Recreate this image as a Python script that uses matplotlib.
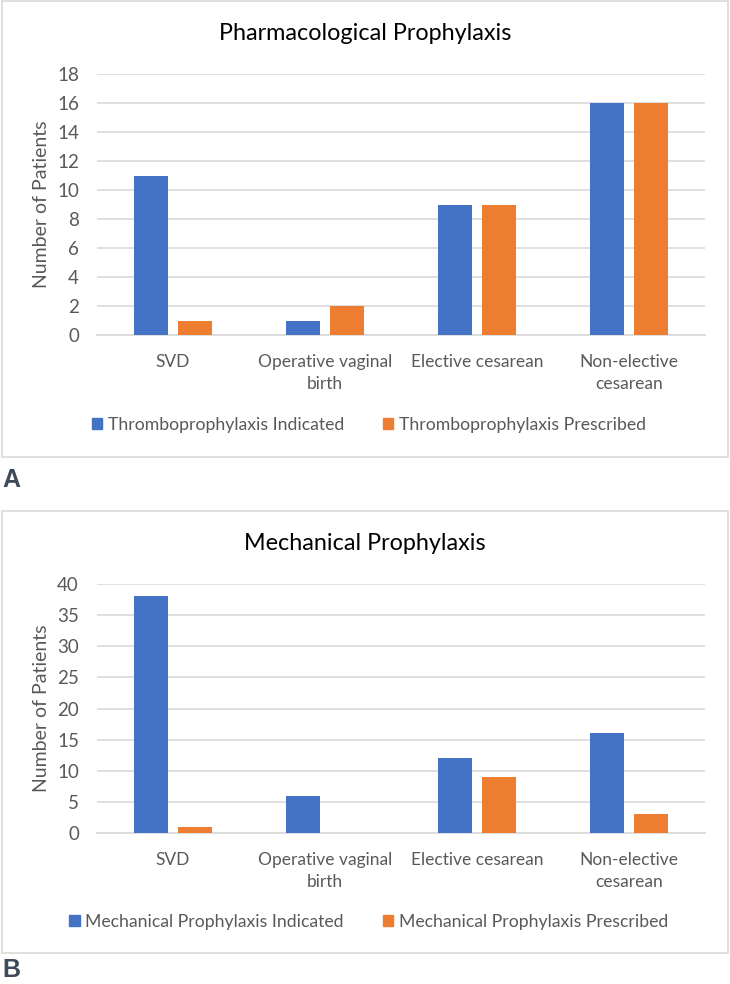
import numpy as np
import matplotlib
matplotlib.use("Agg")
import matplotlib.pyplot as plt
from matplotlib.patches import Rectangle, Patch

# data
categories = ["SVD", "Operative vaginal\nbirth", "Elective cesarean", "Non-elective\ncesarean"]
pharm_indicated = [11, 1, 9, 16]
pharm_prescribed = [1, 2, 9, 16]
mech_indicated = [38, 6, 12, 16]
mech_prescribed = [1, 0, 9, 3]

BLUE = "#4472C4"
ORANGE = "#ED7D31"
GRID = "#D9D9D9"
TXT = "#595959"

plt.rcParams["font.family"] = ["Lato", "DejaVu Sans"]

W, H = 730, 984
fig = plt.figure(figsize=(W / 100, H / 100), dpi=100)


def px_box(x0, y0, x1, y1):
    # pixel box (top-left origin) -> figure fraction rect
    return [x0 / W, 1 - y1 / H, (x1 - x0) / W, (y1 - y0) / H]


def panel(box, axbox, title, title_y, ind, pres, ymax, step, labels, legend_y, letter, letter_y):
    bx = px_box(*box)
    fig.patches.append(Rectangle((bx[0], bx[1]), bx[2], bx[3], transform=fig.transFigure,
                                 fill=False, edgecolor=GRID, linewidth=1.2))
    ax = fig.add_axes(px_box(*axbox))
    x = np.arange(len(categories))
    bw = 0.224
    off = 0.142
    ax.bar(x - off, ind, bw, color=BLUE, zorder=3)
    ax.bar(x + off, pres, bw, color=ORANGE, zorder=3)
    ax.set_xlim(-0.5, len(categories) - 0.5)
    ax.set_ylim(0, ymax)
    ax.set_yticks(np.arange(0, ymax + 1, step))
    ax.grid(axis="y", color=GRID, linewidth=1.2, zorder=0)
    for s in ["top", "right", "left"]:
        ax.spines[s].set_visible(False)
    ax.spines["bottom"].set_color(GRID)
    ax.spines["bottom"].set_linewidth(1.2)
    ax.tick_params(axis="both", length=0, colors=TXT)
    ax.tick_params(axis="x", pad=14, labelsize=12.5)
    ax.tick_params(axis="y", pad=13, labelsize=13.5)
    ax.set_xticks(x)
    ax.set_xticklabels(categories, linespacing=1.4)
    # y axis title
    pos = ax.get_position()
    fig.text(42 / W, pos.y0 + pos.height / 2, "Number of Patients", rotation=90,
             ha="center", va="center", color=TXT, fontsize=14)
    fig.text(0.5, 1 - title_y / H, title, ha="center", va="center", fontsize=16.8, color="black")
    handles = [Patch(color=BLUE, label=labels[0]), Patch(color=ORANGE, label=labels[1])]
    fig.legend(handles=handles, loc="center", bbox_to_anchor=(0.505, 1 - legend_y / H), ncol=2,
               frameon=False, fontsize=12.7, labelcolor=TXT, handlelength=0.6, handleheight=0.6,
               handletextpad=0.3, columnspacing=2.2)
    fig.text(2 / W, 1 - letter_y / H, letter, ha="left", va="center", fontsize=18,
             fontweight="bold", color="#3E4A57", family=["Liberation Sans", "DejaVu Sans"])
    return ax


panel((2, 1, 728, 457), (97, 74, 705, 335), "Pharmacological Prophylaxis", 33,
      pharm_indicated, pharm_prescribed, 18, 2,
      ["Thromboprophylaxis Indicated", "Thromboprophylaxis Prescribed"], 425, "A", 480)

panel((2, 511, 728, 953), (97, 584, 705, 833), "Mechanical Prophylaxis", 543,
      mech_indicated, mech_prescribed, 40, 5,
      ["Mechanical Prophylaxis Indicated", "Mechanical Prophylaxis Prescribed"], 922, "B", 970)

fig.savefig("out.png", dpi=100)
